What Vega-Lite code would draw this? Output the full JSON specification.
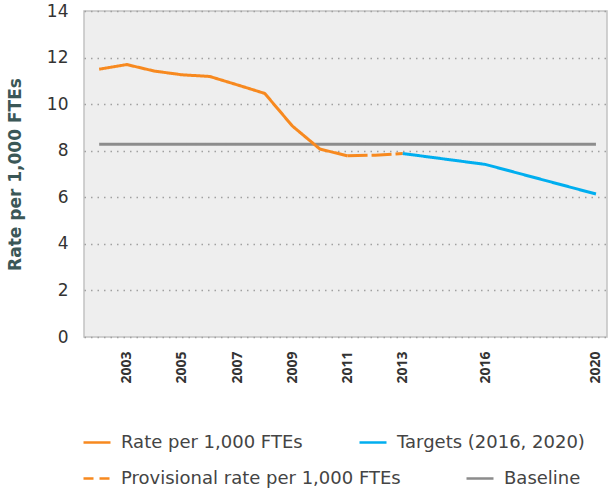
{
  "$schema": "https://vega.github.io/schema/vega-lite/v6.json",
  "width": 523,
  "height": 326,
  "autosize": {"type": "none"},
  "padding": {"left": 84, "top": 11, "right": 3, "bottom": 153},
  "background": "white",
  "config": {
    "view": {"fill": "#eeeeee", "stroke": "#c2c2c2", "strokeWidth": 1.5},
    "font": "DejaVu Sans"
  },
  "data": {
    "values": [
      {"series": "Baseline", "year": 2002, "rate": 8.28},
      {"series": "Baseline", "year": 2003, "rate": 8.28},
      {"series": "Baseline", "year": 2004, "rate": 8.28},
      {"series": "Baseline", "year": 2005, "rate": 8.28},
      {"series": "Baseline", "year": 2006, "rate": 8.28},
      {"series": "Baseline", "year": 2007, "rate": 8.28},
      {"series": "Baseline", "year": 2008, "rate": 8.28},
      {"series": "Baseline", "year": 2009, "rate": 8.28},
      {"series": "Baseline", "year": 2010, "rate": 8.28},
      {"series": "Baseline", "year": 2011, "rate": 8.28},
      {"series": "Baseline", "year": 2012, "rate": 8.28},
      {"series": "Baseline", "year": 2013, "rate": 8.28},
      {"series": "Baseline", "year": 2014, "rate": 8.28},
      {"series": "Baseline", "year": 2015, "rate": 8.28},
      {"series": "Baseline", "year": 2016, "rate": 8.28},
      {"series": "Baseline", "year": 2017, "rate": 8.28},
      {"series": "Baseline", "year": 2018, "rate": 8.28},
      {"series": "Baseline", "year": 2019, "rate": 8.28},
      {"series": "Baseline", "year": 2020, "rate": 8.28},
      {"series": "Rate per 1,000 FTEs", "year": 2002, "rate": 11.5},
      {"series": "Rate per 1,000 FTEs", "year": 2003, "rate": 11.7},
      {"series": "Rate per 1,000 FTEs", "year": 2004, "rate": 11.42},
      {"series": "Rate per 1,000 FTEs", "year": 2005, "rate": 11.26},
      {"series": "Rate per 1,000 FTEs", "year": 2006, "rate": 11.19},
      {"series": "Rate per 1,000 FTEs", "year": 2007, "rate": 10.83},
      {"series": "Rate per 1,000 FTEs", "year": 2008, "rate": 10.46},
      {"series": "Rate per 1,000 FTEs", "year": 2009, "rate": 9.06},
      {"series": "Rate per 1,000 FTEs", "year": 2010, "rate": 8.07},
      {"series": "Rate per 1,000 FTEs", "year": 2011, "rate": 7.78},
      {"series": "Provisional rate per 1,000 FTEs", "year": 2011, "rate": 7.78},
      {"series": "Provisional rate per 1,000 FTEs", "year": 2012, "rate": 7.81},
      {"series": "Provisional rate per 1,000 FTEs", "year": 2013, "rate": 7.88},
      {"series": "Targets (2016, 2020)", "year": 2013, "rate": 7.88},
      {"series": "Targets (2016, 2020)", "year": 2016, "rate": 7.41},
      {"series": "Targets (2016, 2020)", "year": 2020, "rate": 6.14}
    ]
  },
  "encoding": {
    "x": {
      "field": "year",
      "type": "quantitative",
      "scale": {"domain": [2001.45, 2020.4], "nice": false, "zero": false},
      "axis": {
        "title": null,
        "values": [2003, 2005, 2007, 2009, 2011, 2013, 2016, 2020],
        "format": "d",
        "labelAngle": -90,
        "labelFont": "Open Sans",
        "labelFontWeight": "bold",
        "labelFontSize": 14,
        "labelColor": "#333333",
        "labelPadding": 14,
        "ticks": false,
        "grid": false,
        "domain": false
      }
    },
    "y": {
      "field": "rate",
      "type": "quantitative",
      "scale": {"domain": [0, 14], "nice": false},
      "axis": {
        "title": "Rate per 1,000 FTEs",
        "titleFontSize": 17,
        "titleFontWeight": "bold",
        "titleColor": "#3b5757",
        "titlePadding": 22,
        "values": [0, 2, 4, 6, 8, 10, 12, 14],
        "labelFontSize": 17,
        "labelColor": "#333333",
        "labelPadding": 16,
        "ticks": false,
        "domain": false,
        "grid": true,
        "gridColor": "#a0a0a0",
        "gridDash": [1.5, 5],
        "gridWidth": 1.5
      }
    },
    "strokeDash": {
      "field": "series",
      "type": "nominal",
      "scale": {
        "domain": ["Rate per 1,000 FTEs", "Targets (2016, 2020)", "Provisional rate per 1,000 FTEs", "Baseline"],
        "range": [[1, 0], [1, 0], [20, 4], [1, 0]]
      },
      "legend": null
    }
  },
  "layer": [
    {
      "transform": [{"filter": {"field": "series", "oneOf": ["Baseline", "Provisional rate per 1,000 FTEs"]}}],
      "mark": {"type": "line", "strokeWidth": 3, "strokeCap": "butt"},
      "encoding": {
        "color": {
          "field": "series",
          "type": "nominal",
          "scale": {
            "domain": ["Provisional rate per 1,000 FTEs", "Baseline"],
            "range": ["#f7891f", "#8c8c8c"]
          },
          "legend": {
            "title": null,
            "orient": "none",
            "legendX": -2,
            "legendY": 452.5,
            "direction": "horizontal",
            "columnPadding": 60,
            "symbolType": "stroke",
            "symbolSize": 729,
            "symbolStrokeWidth": 2.5,
            "labelFontSize": 18,
            "labelColor": "#444444",
            "labelOffset": 9,
            "labelLimit": 400,
            "encode": {
              "symbols": {
                "update": {
                  "strokeDash": {"signal": "datum.value === 'Provisional rate per 1,000 FTEs' ? [10, 6] : [1, 0]"}
                }
              }
            }
          }
        }
      }
    },
    {
      "transform": [{"filter": {"field": "series", "oneOf": ["Rate per 1,000 FTEs", "Targets (2016, 2020)"]}}],
      "mark": {"type": "line", "strokeWidth": 3, "strokeCap": "butt"},
      "encoding": {
        "color": {
          "field": "series",
          "type": "nominal",
          "scale": {
            "domain": ["Rate per 1,000 FTEs", "Targets (2016, 2020)"],
            "range": ["#f7891f", "#00aeef"]
          },
          "legend": {
            "title": null,
            "orient": "none",
            "legendX": -2,
            "legendY": 416.5,
            "direction": "horizontal",
            "columnPadding": 51,
            "symbolType": "stroke",
            "symbolSize": 729,
            "symbolStrokeWidth": 2.5,
            "labelFontSize": 18,
            "labelColor": "#444444",
            "labelOffset": 9,
            "labelLimit": 400
          }
        }
      }
    }
  ],
  "resolve": {"scale": {"color": "independent"}, "legend": {"color": "independent"}}
}
